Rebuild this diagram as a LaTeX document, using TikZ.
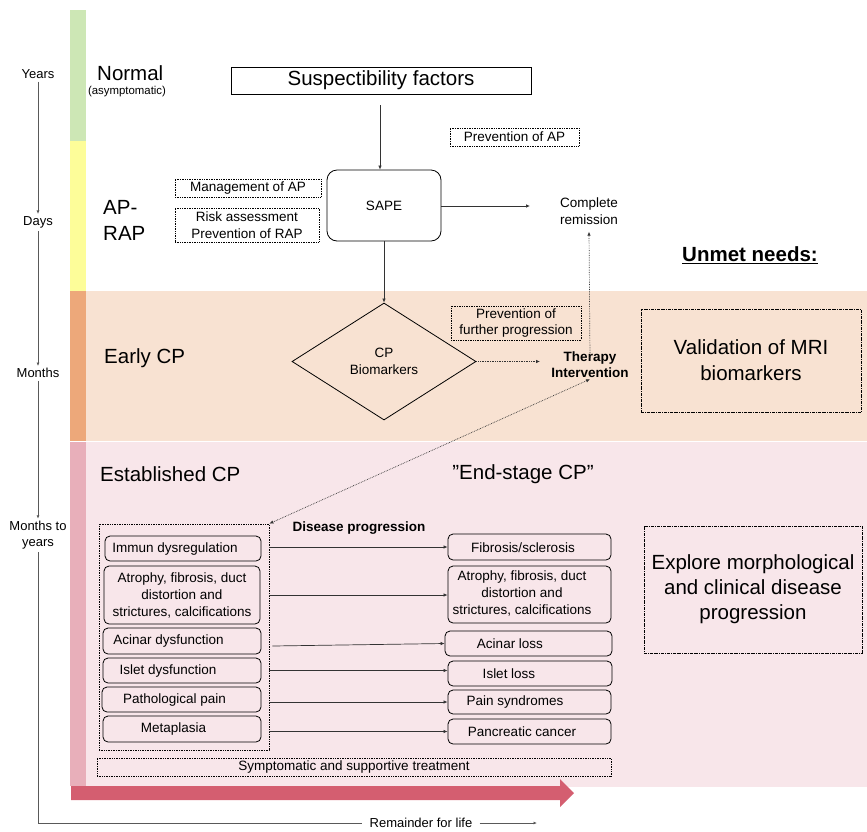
\documentclass[tikz,border=0pt]{standalone}
\usepackage{fontspec}
\setmainfont{Liberation Sans}
\usetikzlibrary{arrows.meta,shapes.geometric}
\definecolor{cgreen}{RGB}{205,231,181}
\definecolor{cyellow}{RGB}{253,253,153}
\definecolor{corbar}{RGB}{237,168,122}
\definecolor{corbg}{RGB}{248,226,210}
\definecolor{cpkbar}{RGB}{232,175,186}
\definecolor{cpkbg}{RGB}{248,230,234}
\definecolor{cred}{RGB}{212,94,112}
\begin{document}
\begin{tikzpicture}[x=1pt,y=-1pt,
  every node/.style={font=\fontsize{13.5}{17}\selectfont, inner sep=0pt, align=center},
  big/.style={font=\fontsize{20.5}{26}\selectfont},
  bigb/.style={font=\fontsize{20.5}{26}\selectfont\bfseries},
  smallb/.style={font=\fontsize{13.5}{16}\selectfont\bfseries},
  axtxt/.style={font=\fontsize{13}{16}\selectfont},
  arr/.style={draw=black!80, line width=0.7pt, -{Latex[length=4pt,width=3.5pt]}},
  darr/.style={draw=black!80, line width=0.7pt, densely dotted, -{Latex[length=4pt,width=3.5pt]}},
  dotbox/.style={draw=black, line width=0.7pt, densely dotted},
  ddbox/.style={draw=black, line width=0.7pt, densely dash dot},
  rbox/.style={draw=black, line width=0.8pt, rounded corners=5pt},
  axline/.style={draw=black!65, line width=0.8pt},
  axarr/.style={draw=black!65, line width=0.8pt, -{Latex[length=3.5pt,width=3pt]}}
]
\useasboundingbox (0,0) rectangle (867,831);
% bands
\fill[cgreen] (70,10) rectangle (86,141);
\fill[cyellow] (70,141) rectangle (86,291);
\fill[corbar] (70,291) rectangle (86,441);
\fill[corbg] (86,291) rectangle (867,441);
\fill[cpkbar] (70,442) rectangle (86,786);
\fill[cpkbg] (86,442) rectangle (867,787);
\fill[cred] (71,786) -- (560,786) -- (560,779) -- (574,793) -- (560,807) -- (560,800) -- (71,800) -- cycle;

% time axis
\node[axtxt] (years) at (38,74) {Years};
\node[axtxt] (days) at (38,222) {Days};
\node[axtxt] (months) at (38,373) {Months};
\node[axtxt] (mty) at (38,535) {Months to\\years};
\node[axtxt] (rem) at (421,823) {Remainder for life};
\coordinate (corner) at (38,823);
\coordinate (remend) at (537,823);
\draw[axarr] ([yshift=-3pt]years.south) -- ([yshift=2pt]days.north);
\draw[axarr] ([yshift=-3pt]days.south) -- ([yshift=2pt]months.north);
\draw[axarr] ([yshift=-3pt]months.south) -- ([yshift=2pt]mty.north);
\draw[axline] ([yshift=-3pt]mty.south) -- (corner) -- ([xshift=-8pt]rem.west);
\draw[axarr] ([xshift=7pt]rem.east) -- (remend);

% stage labels
\node[big, anchor=west] (normal) at (97,73) {Normal};
\node[font=\fontsize{11.4}{13}\selectfont] (asym) at (127,92) {(asymptomatic)};
\node[big, anchor=west, align=left] (aprap) at (103,220) {AP-\\RAP};
\node[big, anchor=west] (early) at (104,358) {Early CP};
\node[big, anchor=west] (estab) at (100,474) {Established CP};
\node[big] (endst) at (523,474) {”End-stage CP”};

% top flow
\node[draw=black, line width=0.8pt, minimum width=300pt, minimum height=27pt, big] (susc) at (381,80.5) {Suspectibility factors};
\coordinate (sfrom) at (380,105);
\node[rbox, rounded corners=10pt, minimum width=114pt, minimum height=71pt] (sape) at (384,205.5) {SAPE};
\draw[arr] (sfrom) -- (sfrom |- sape.north);
\node (remis) at (589,211) {Complete\\remission};
\coordinate (sapeto) at (530,206);
\draw[arr] (sape.east |- sapeto) -- (sapeto);
\node[dotbox, minimum width=129pt, minimum height=18pt] (prevap) at (514.5,137) {Prevention of AP};
\node[dotbox, minimum width=146pt, minimum height=18pt] (mgmt) at (248,188) {Management of AP};
\node[dotbox, minimum width=144pt, minimum height=34pt] (risk) at (247,225) {Risk assessment\\Prevention of RAP};

% diamond
\node[draw=black, line width=0.8pt, diamond, minimum width=184pt, minimum height=117pt] (cpb) at (384,361.5) {CP\\Biomarkers};
\draw[arr] (sape.south) -- (cpb.north);
\node[smallb] (ther) at (590,365) {Therapy\\Intervention};
\coordinate (cpbto) at (540,361.5);
\draw[darr] (cpb.east) -- (cpbto);
\draw[darr] ([yshift=-6pt]ther.north) -- ([yshift=-7pt]remis.south);
\node[dotbox, minimum width=130pt, minimum height=34pt] (prevfp) at (516,323) {Prevention of\\further progression};

% unmet needs
\node[bigb] (unmet) at (750,255) {\underline{Unmet needs:}};
\node[ddbox, big, minimum width=220pt, minimum height=103pt] (valid) at (751,360.5) {Validation of MRI\\biomarkers};
\node[ddbox, big, minimum width=218pt, minimum height=127pt, font=\fontsize{20.5}{25}\selectfont] (explore) at (753,589.5) {Explore morphological\\and clinical disease\\progression};

% established CP boxes
\node[dotbox, minimum width=170pt, minimum height=226pt] (lgroup) at (184,637) {};
\draw[darr, {Latex[length=4pt,width=3.5pt]}-{Latex[length=4pt,width=3.5pt]}] (lgroup.north east) -- ([yshift=-1pt]ther.south);
\node[smallb] (dprog) at (359,528) {Disease progression};

\node[rbox, minimum width=156pt, minimum height=25pt] (l1) at (183,548.5) {};
\node (l1t) at (175,548.5) {Immun dysregulation};
\node[rbox, minimum width=156pt, minimum height=58pt] (l2) at (182,595) {};
\node (l2t) at (182,595) {Atrophy, fibrosis, duct\\distortion and\\strictures, calcifications};
\node[rbox, minimum width=158pt, minimum height=26pt] (l3) at (182,641) {};
\node (l3t) at (168.5,641) {Acinar dysfunction};
\node[rbox, minimum width=158pt, minimum height=25pt] (l4) at (182,670.5) {};
\node (l4t) at (168,670.5) {Islet dysfunction};
\node[rbox, minimum width=159pt, minimum height=25pt] (l5) at (181.5,699.5) {};
\node (l5t) at (174.5,699.5) {Pathological pain};
\node[rbox, minimum width=158pt, minimum height=26pt] (l6) at (182,729) {};
\node (l6t) at (173.5,729) {Metaplasia};

\node[rbox, minimum width=163pt, minimum height=26pt] (r1) at (529.5,547) {};
\node (r1t) at (523,548) {Fibrosis/sclerosis};
\node[rbox, minimum width=163pt, minimum height=57pt] (r2) at (529.5,594.5) {};
\node (r2t) at (522,593) {Atrophy, fibrosis, duct\\distortion and\\strictures, calcifications};
\node[rbox, minimum width=167pt, minimum height=25pt] (r3) at (528.5,643.5) {};
\node (r3t) at (510,644) {Acinar loss};
\node[rbox, minimum width=164pt, minimum height=25pt] (r4) at (530,673.5) {};
\node (r4t) at (509,673.5) {Islet loss};
\node[rbox, minimum width=163pt, minimum height=24pt] (r5) at (529.5,702) {};
\node (r5t) at (515,702) {Pain syndromes};
\node[rbox, minimum width=163pt, minimum height=25pt] (r6) at (529.5,731.5) {};
\node (r6t) at (522,731.5) {Pancreatic cancer};

\draw[arr] (lgroup.east |- r1.west) -- (r1.west);
\draw[arr] (lgroup.east |- l2.east) -- (r2.west |- l2.east);
\draw[arr] ([xshift=3pt]lgroup.east |- 0,646) -- (r3.west);
\draw[arr] (lgroup.east |- l4.east) -- (r4.west |- l4.east);
\draw[arr] (lgroup.east |- r5.west) -- (r5.west);
\draw[arr] (lgroup.east |- r6.west) -- (r6.west);

\node[dotbox, minimum width=514pt, minimum height=18pt] (sympt) at (354,767) {Symptomatic and supportive treatment};
\end{tikzpicture}
\end{document}
